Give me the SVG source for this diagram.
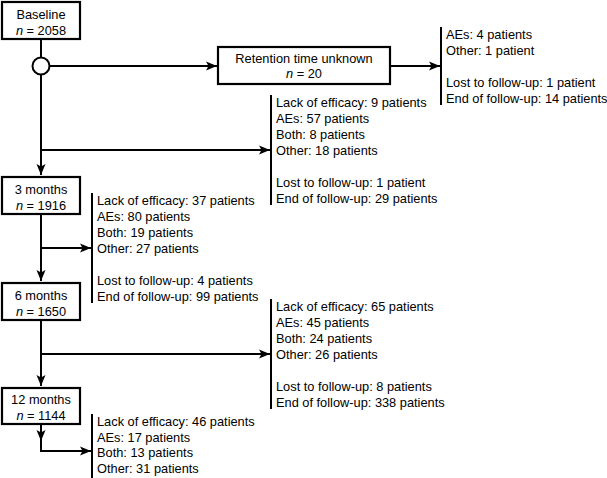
<svg xmlns="http://www.w3.org/2000/svg" width="607" height="478" viewBox="0 0 607 478">
<style>
text{font-family:"Liberation Sans",Arial,Helvetica,sans-serif;font-size:12.8px;fill:#000}
.c{text-anchor:middle}
.box{fill:#fff;stroke:#000;stroke-width:2.2}
.ln{fill:none;stroke:#000;stroke-width:2}
.br{stroke:#000;stroke-width:2}
</style>
<defs>
<marker id="ah" viewBox="0 0 11 10" refX="11" refY="5" markerWidth="11" markerHeight="10" markerUnits="userSpaceOnUse" orient="auto">
<path d="M0,0.5 L11,5 L0,9.5 L2.5,5 Z" fill="#000"/>
</marker>
</defs>
<rect width="607" height="478" fill="#fff"/>
<g id="connectors">
<line class="ln" x1="41" y1="39.5" x2="41" y2="57.5"/>
<line class="ln" x1="49.5" y1="66" x2="217" y2="66" marker-end="url(#ah)"/>
<line class="ln" x1="41" y1="74.5" x2="41" y2="175" marker-end="url(#ah)"/>
<line class="ln" x1="41" y1="150" x2="270" y2="150" marker-end="url(#ah)"/>
<line class="ln" x1="390" y1="66" x2="440" y2="66" marker-end="url(#ah)"/>
<line class="ln" x1="41" y1="215" x2="41" y2="281" marker-end="url(#ah)"/>
<line class="ln" x1="41" y1="248" x2="91" y2="248" marker-end="url(#ah)"/>
<line class="ln" x1="41" y1="321" x2="41" y2="386" marker-end="url(#ah)"/>
<line class="ln" x1="41" y1="354" x2="270" y2="354" marker-end="url(#ah)"/>
<line class="ln" x1="41" y1="425" x2="41" y2="441" marker-end="url(#ah)"/>
<line class="ln" x1="41" y1="440" x2="41" y2="451"/>
<line class="ln" x1="40" y1="451" x2="91" y2="451" marker-end="url(#ah)"/>
</g>
<g id="baseline">
<rect class="box" x="2" y="2" width="78" height="37"/>
<text class="c" x="41" y="18.5">Baseline</text>
<text class="c" x="41" y="34.5"><tspan font-style="italic">n</tspan> = 2058</text>
</g>
<g id="split">
<circle cx="41" cy="66" r="8.5" fill="#fff" stroke="#000" stroke-width="2"/>
</g>
<g id="retention">
<rect class="box" x="218" y="47" width="172" height="37"/>
<text class="c" x="304" y="62.5">Retention time unknown</text>
<text class="c" x="304" y="77.5"><tspan font-style="italic">n</tspan> = 20</text>
</g>
<g id="retention-reasons">
<line class="br" x1="441" y1="27" x2="441" y2="105"/>
<text x="446" y="38.5">AEs: 4 patients</text>
<text x="446" y="54.5">Other: 1 patient</text>
<text x="446" y="86.5">Lost to follow-up: 1 patient</text>
<text x="446" y="102.5">End of follow-up: 14 patients</text>
</g>
<g id="baseline-reasons">
<line class="br" x1="271" y1="95" x2="271" y2="205"/>
<text x="276" y="106.5">Lack of efficacy: 9 patients</text>
<text x="276" y="122.5">AEs: 57 patients</text>
<text x="276" y="138.5">Both: 8 patients</text>
<text x="276" y="154.5">Other: 18 patients</text>
<text x="276" y="186.5">Lost to follow-up: 1 patient</text>
<text x="276" y="202.5">End of follow-up: 29 patients</text>
</g>
<g id="m3">
<rect class="box" x="2" y="177" width="78" height="37"/>
<text class="c" x="41" y="193.5">3 months</text>
<text class="c" x="41" y="209.5"><tspan font-style="italic">n</tspan> = 1916</text>
</g>
<g id="m3-reasons">
<line class="br" x1="92" y1="193" x2="92" y2="303"/>
<text x="97" y="204.5">Lack of efficacy: 37 patients</text>
<text x="97" y="220.5">AEs: 80 patients</text>
<text x="97" y="236.5">Both: 19 patients</text>
<text x="97" y="252.5">Other: 27 patients</text>
<text x="97" y="284.5">Lost to follow-up: 4 patients</text>
<text x="97" y="300.5">End of follow-up: 99 patients</text>
</g>
<g id="m6">
<rect class="box" x="2" y="283" width="78" height="37"/>
<text class="c" x="41" y="299.5">6 months</text>
<text class="c" x="41" y="315.5"><tspan font-style="italic">n</tspan> = 1650</text>
</g>
<g id="m6-reasons">
<line class="br" x1="271" y1="299" x2="271" y2="409"/>
<text x="276" y="310.5">Lack of efficacy: 65 patients</text>
<text x="276" y="326.5">AEs: 45 patients</text>
<text x="276" y="342.5">Both: 24 patients</text>
<text x="276" y="358.5">Other: 26 patients</text>
<text x="276" y="390.5">Lost to follow-up: 8 patients</text>
<text x="276" y="406.5">End of follow-up: 338 patients</text>
</g>
<g id="m12">
<rect class="box" x="2" y="388" width="78" height="36"/>
<text class="c" x="41" y="404">12 months</text>
<text class="c" x="41" y="419.5"><tspan font-style="italic">n</tspan> = 1144</text>
</g>
<g id="m12-reasons">
<line class="br" x1="92" y1="414" x2="92" y2="478"/>
<text x="97" y="425.5">Lack of efficacy: 46 patients</text>
<text x="97" y="441.5">AEs: 17 patients</text>
<text x="97" y="457">Both: 13 patients</text>
<text x="97" y="472.5">Other: 31 patients</text>
</g>
</svg>
